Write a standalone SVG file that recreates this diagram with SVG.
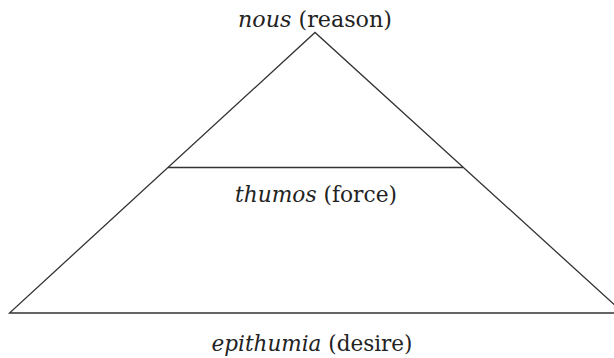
<svg xmlns="http://www.w3.org/2000/svg" width="614" height="358" viewBox="0 0 614 358">
  <style>
    .lbl { font-family: "DejaVu Serif", "Liberation Serif", serif; font-size: 22px; fill: #222; }
    .it { font-style: italic; }
    .ln { fill: none; stroke: #333; stroke-width: 1.3; }
  </style>
  <rect width="614" height="358" fill="#fff"/>
  <g id="connectors">
    <polyline class="ln" points="623.5,313 315,32.5 9.5,313 614,313"/>
    <line class="ln" x1="168" y1="167.5" x2="463" y2="167.5"/>
  </g>
  <g id="nous">
    <text class="lbl" x="315" y="27" text-anchor="middle" textLength="154" lengthAdjust="spacingAndGlyphs"><tspan class="it">nous</tspan> (reason)</text>
  </g>
  <g id="thumos">
    <text class="lbl" x="316" y="202" text-anchor="middle" textLength="162" lengthAdjust="spacingAndGlyphs"><tspan class="it">thumos</tspan> (force)</text>
  </g>
  <g id="epithumia">
    <text class="lbl" x="312" y="351" text-anchor="middle" textLength="201" lengthAdjust="spacingAndGlyphs"><tspan class="it">epithumia</tspan> (desire)</text>
  </g>
</svg>
